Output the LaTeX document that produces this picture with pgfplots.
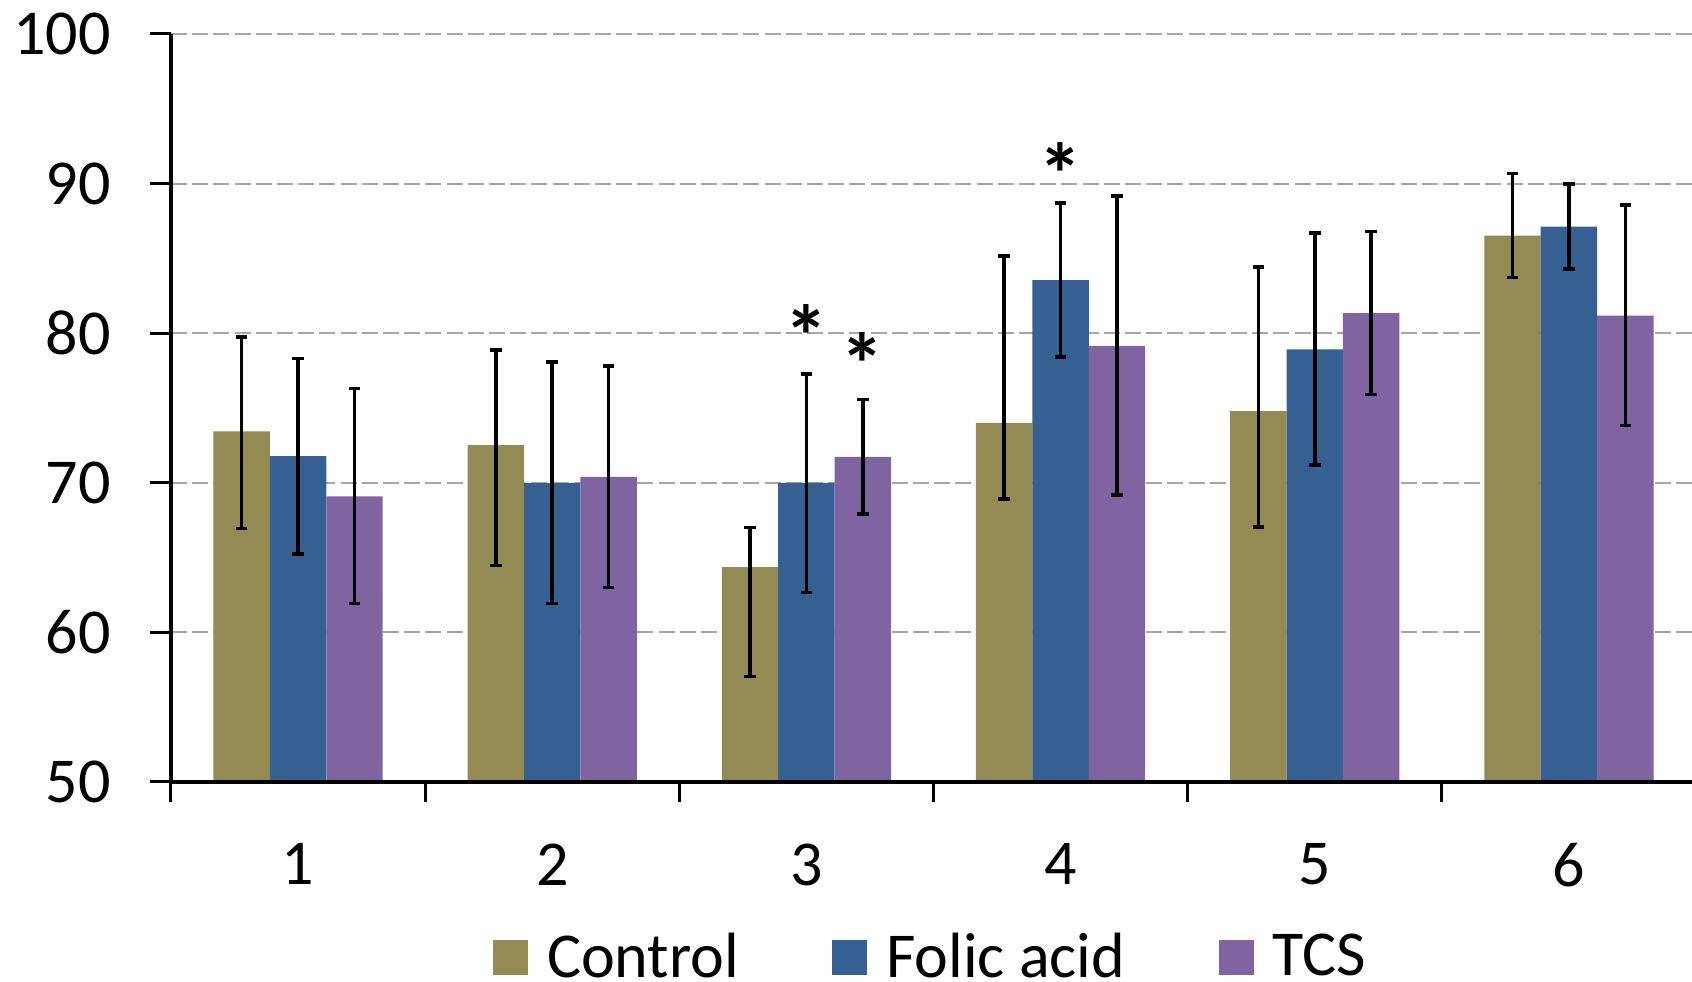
\documentclass[border=0pt]{standalone}
\usepackage{fontspec}
\setmainfont{Carlito}
\usepackage{pgfplots}
\usepackage{pgfplotstable}
\pgfplotsset{compat=1.18}
\definecolor{cctrl}{HTML}{948A54}
\definecolor{cfolic}{HTML}{366092}
\definecolor{ctcs}{HTML}{8064A2}
\definecolor{gridgray}{HTML}{A6A6A6}

\pgfplotstableread{
x y ep em
1 73.44 6.31 6.50
2 72.52 6.36 8.06
3 64.37 2.65 7.31
4 74.01 11.13 5.10
5 74.79 9.64 7.73
6 86.52 4.15 2.79
}\tctrl
\pgfplotstableread{
x y ep em
1 71.79 6.51 6.54
2 69.98 8.08 8.06
3 70.00 7.27 7.33
4 83.54 5.15 5.12
5 78.91 7.79 7.73
6 87.12 2.86 2.81
}\tfolic
\pgfplotstableread{
x y ep em
1 69.09 7.20 7.17
2 70.40 7.41 7.41
3 71.74 3.82 3.83
4 79.15 10.03 9.97
5 81.34 5.47 5.45
6 81.18 7.37 7.34
}\ttcs
\pgfplotstableread{
x y
3     80.78
3.222 78.90
4     91.60
}\tstars

\begin{document}
\begin{tikzpicture}
\begin{axis}[
  name=ax,
  at={(0,0)}, anchor=south west,
  scale only axis,
  width=381.25pt, height=187pt,
  xmin=0.5, xmax=6.5, ymin=50, ymax=100,
  ybar, bar width=0.222,
  axis x line*=bottom, axis y line*=left,
  axis line style={-, line width=1pt, black},
  xtick={1,2,3,4,5,6},
  minor xtick={0.5,1.5,2.5,3.5,4.5,5.5,6.5},
  ytick={50,60,70,80,90,100},
  tick align=outside,
  major tick length=5.25pt,
  minor tick length=5pt,
  tick style={line width=0.75pt, black},
  major x tick style={draw=none},
  ymajorgrids,
  major grid style={gridgray, line width=0.5pt, dash pattern=on 4pt off 1.3pt},
  /pgf/number format/assume math mode=true,
  tick label style={font=\fontsize{16}{19}\selectfont, black},
  yticklabel style={xshift=-6.25pt},
  xticklabel style={yshift=-6.6pt},
  legend columns=3,
  legend style={draw=none, fill=none, at={(0.5,0)}, anchor=center, yshift=-44pt,
    font=\fontsize{16}{19}\selectfont,
    /tikz/every odd column/.append style={column sep=2.7pt},
    /tikz/every even column/.append style={column sep=21.3pt}},
  legend cell align=left,
]
\addplot[bar shift=-0.222, fill=cctrl, draw=none,
  legend image code/.code={\fill[cctrl] (0pt,-4.375pt) rectangle (8.75pt,4.375pt);},
  error bars/.cd, y dir=both, y explicit,
  error bar style={draw=black, line width=0.9pt, solid},
  error mark options={rotate=90, draw=black, line width=0.9pt, mark size=1.45pt, solid}]
  table[x=x, y=y, y error plus=ep, y error minus=em] {\tctrl};
\addlegendentry{Control}
\addplot[bar shift=0, fill=cfolic, draw=none,
  legend image code/.code={\fill[cfolic] (0pt,-4.375pt) rectangle (8.75pt,4.375pt);},
  error bars/.cd, y dir=both, y explicit,
  error bar style={draw=black, line width=0.9pt, solid},
  error mark options={rotate=90, draw=black, line width=0.9pt, mark size=1.45pt, solid}]
  table[x=x, y=y, y error plus=ep, y error minus=em] {\tfolic};
\addlegendentry{Folic acid}
\addplot[bar shift=0.222, fill=ctcs, draw=none,
  legend image code/.code={\fill[ctcs] (0pt,-4.375pt) rectangle (8.75pt,4.375pt);},
  error bars/.cd, y dir=both, y explicit,
  error bar style={draw=black, line width=0.9pt, solid},
  error mark options={rotate=90, draw=black, line width=0.9pt, mark size=1.45pt, solid}]
  table[x=x, y=y, y error plus=ep, y error minus=em] {\ttcs};
\addlegendentry{TCS}
\addplot[forget plot, sharp plot, only marks, mark=none, draw=none, bar shift=0,
  nodes near coords={*}, nodes near coords align={center},
  every node near coord/.append style={font=\bfseries\fontsize{22}{24}\selectfont, black, yshift=-3.6pt}]
  table[x=x, y=y] {\tstars};
\end{axis}
\draw[line width=1pt, black] (ax.south west) -- (ax.south east);
\pgfresetboundingbox
\path[use as bounding box] (-42.75pt,-50pt) rectangle (380.25pt,195.5pt);
\end{tikzpicture}
\end{document}
